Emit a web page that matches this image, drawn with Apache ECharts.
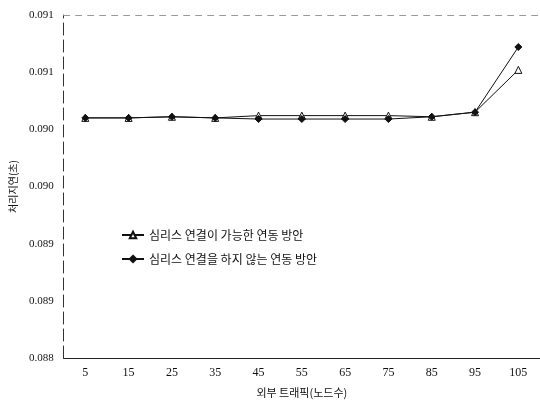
<!DOCTYPE html>
<html>
<head>
<meta charset="utf-8">
<script src="https://cdn.jsdelivr.net/npm/echarts@6/dist/echarts.min.js"></script>
<style>html,body{margin:0;padding:0;background:#fff;}#c{width:540px;height:403px;}</style>
</head>
<body>
<div id="c"></div>
<script>
const categories = ['5','15','25','35','45','55','65','75','85','95','105'];
const seriesSeamless = [0.09010, 0.09010, 0.09011, 0.09010, 0.09012, 0.09012, 0.09012, 0.09012, 0.09011, 0.09015, 0.09052];
const seriesNoSeamless = [0.09010, 0.09010, 0.09011, 0.09010, 0.09009, 0.09009, 0.09009, 0.09009, 0.09011, 0.09015, 0.09072];
const seriesNames = ['심리스 연결이 가능한 연동 방안', '심리스 연결을 하지 않는 연동 방안'];
const yTickLabels = ['0.088','0.089','0.089','0.090','0.090','0.091','0.091'];
const yMin = 0.088, yMax = 0.091, yStep = 0.0005;
const xName = '외부 트래픽(노드수)';
const yName = '처리지연(초)';

const chart = echarts.init(document.getElementById('c'));
chart.setOption({
  animation: false,
  backgroundColor: '#fff',
  grid: { left: 57, right: -5, top: 15, bottom: 40 },
  legend: {
    orient: 'vertical', left: 116, top: 224, itemGap: 12,
    itemWidth: 22, itemHeight: 8,
    textStyle: { fontFamily: 'Noto Sans CJK KR', fontSize: 12, color: '#111' },
    data: seriesNames
  },
  xAxis: [{
    type: 'category', data: categories, boundaryGap: true,
    axisLine: { lineStyle: { color: '#222', width: 1 } },
    axisTick: { show: false },
    axisLabel: { color: '#111', fontFamily: 'Liberation Serif', fontSize: 12, margin: 9 },
    name: xName, nameLocation: 'middle', nameGap: 29,
    nameTextStyle: { fontFamily: 'Noto Sans CJK KR', fontSize: 11, color: '#111', padding: [0, 0, 0, 0] },
    splitLine: { show: false }
  }, {
    type: 'category', data: categories, position: 'top', boundaryGap: true,
    axisLine: { lineStyle: { color: '#999', width: 1, type: [6, 6] } },
    axisTick: { show: false }, axisLabel: { show: false }
  }],
  yAxis: {
    type: 'value', min: yMin, max: yMax, interval: yStep,
    axisLine: { show: true, lineStyle: { color: '#333', width: 1, type: [12, 5] } },
    axisTick: { show: false },
    splitLine: { show: false },
    axisLabel: {
      color: '#111', fontFamily: 'Liberation Serif', fontSize: 11, margin: 10,
      formatter: v => yTickLabels[Math.round((v - yMin) / yStep)]
    },
    name: yName, nameLocation: 'middle', nameGap: 43, nameRotate: 90,
    nameTextStyle: { fontFamily: 'Noto Sans CJK KR', fontSize: 10, color: '#111' }
  },
  series: [{
    name: seriesNames[0], type: 'line', data: seriesSeamless,
    symbol: 'triangle', symbolSize: 7,
    lineStyle: { color: '#111', width: 1 },
    itemStyle: { color: '#fff', borderColor: '#111', borderWidth: 1 }
  }, {
    name: seriesNames[1], type: 'line', data: seriesNoSeamless,
    symbol: 'diamond', symbolSize: 7,
    lineStyle: { color: '#111', width: 1 },
    itemStyle: { color: '#111', borderColor: '#111', borderWidth: 1 }
  }]
});
</script>
</body>
</html>
